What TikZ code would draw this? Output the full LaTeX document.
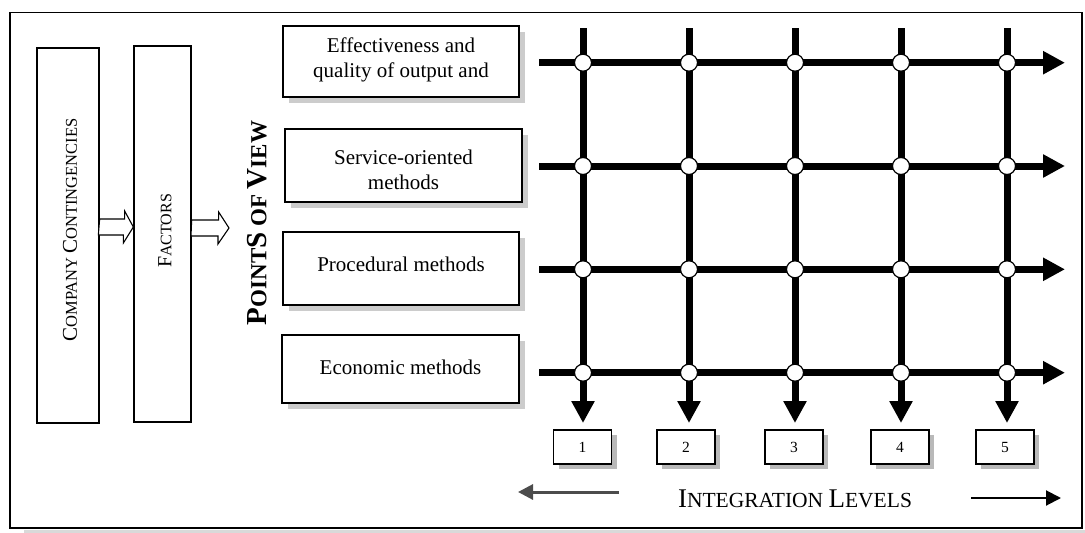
\documentclass[tikz,border=0pt]{standalone}
\usepackage{fontspec}
\setmainfont{Liberation Serif}
\usetikzlibrary{arrows.meta,shadows}
\newcommand\SZ[2]{{\fontsize{#1}{#1}\selectfont #2}}
\begin{document}
\begin{tikzpicture}[x=1pt,y=-1pt,
  tallbox/.style={draw, line width=1.3pt, fill=white, inner sep=0pt},
  hollow/.style={draw, line width=1.1pt, fill=white, line join=miter},
  rbox/.style={draw, line width=1.3pt, fill=white, inner sep=0pt,
    drop shadow={shadow xshift=6pt, shadow yshift=-6pt, fill=gray!40, opacity=1}},
  rtext/.style={align=center, inner sep=0pt, font=\fontsize{21}{24.5}\selectfont},
  nbox/.style={draw, line width=1.2pt, fill=white, inner sep=0pt,
    minimum width=58pt, minimum height=34pt, font=\fontsize{15.5}{15.5}\selectfont,
    drop shadow={shadow xshift=5pt, shadow yshift=-5pt, fill=gray!55, opacity=1}},
  gridline/.style={line width=7pt, -{Triangle[length=22pt,width=22pt]}},
  jn/.style={circle, draw, line width=1.2pt, fill=white, minimum size=17pt, inner sep=0pt},
  thinarrow/.style={-{Triangle[length=15pt,width=15pt]}}
]
\useasboundingbox (0,0) rectangle (1085,533);
% outer frame
\fill[gray!30] (24,529.5) rectangle (1085,533);
\draw[line width=1.5pt] (10,12.5) rectangle (1082,528);

% tall boxes
\node[tallbox, minimum width=62pt, minimum height=375pt] (cc) at (68,235.5) {};
\node[tallbox, minimum width=57pt, minimum height=376pt] (fa) at (162.5,234) {};
\node[rotate=90, inner sep=0pt] (cct) at (70,230)
  {\SZ{21}{C}\SZ{16.5}{OMPANY }\SZ{21}{C}\SZ{16.5}{ONTINGENCIES}};
\node[rotate=90, inner sep=0pt] (fat) at (165,231)
  {\SZ{20}{F}\SZ{16}{ACTORS}};

% hollow arrows
\coordinate (a1s) at (cc.east |- 0,227);
\coordinate (a1e) at (fa.west |- 0,227);
\draw[hollow] (a1s) ++(0,-8) -- ++(25,0) -- ++(0,-8) -- (a1e) -- ++(-10,16) -- ++(0,-8) -- ++(-25,0) -- cycle;
\coordinate (a2s) at (fa.east |- 0,228);
\coordinate (a2e) at (229,228);
\draw[hollow] (a2s) ++(0,-8) -- ++(27,0) -- ++(0,-8) -- (a2e) -- ++(-11,16) -- ++(0,-8) -- ++(-27,0) -- cycle;

% points of view
\node[rotate=90, inner sep=0pt, font=\bfseries] (pov) at (257,223)
  {\SZ{29}{P}\SZ{23}{OINT}\SZ{29}{S}\SZ{23}{ OF }\SZ{29}{V}\SZ{23}{IEW}};

% right boxes
\node[rbox, minimum width=236pt, minimum height=71pt] (p1) at (401,61.5) {};
\node[rbox, minimum width=237pt, minimum height=73pt] (p2) at (403.5,165.5) {};
\node[rbox, minimum width=236pt, minimum height=73pt] (p3) at (401,268.5) {};
\node[rbox, minimum width=237pt, minimum height=68pt] (p4) at (400.5,369) {};
\node[rtext] (p1t) at (401,60) {Effectiveness and\\quality of output and};
\node[rtext] (p2t) at (403.5,170) {Service-oriented\\methods};
\node[rtext] (p3t) at (401,264) {Procedural methods};
\node[rtext] (p4t) at (400.5,367) {Economic methods};

% grid
\foreach \i/\y in {1/62.7,2/166,3/269.3,4/372.7}{
  \coordinate (h\i s) at (539,\y);
  \coordinate (h\i e) at (1065,\y);
}
\foreach \j/\x in {1/583,2/689,3/795,4/901,5/1007}{
  \coordinate (v\j s) at (\x,28);
  \coordinate (v\j e) at (\x,423);
}
\foreach \j in {1,...,5} \draw[gridline] (v\j s) -- (v\j e);
\foreach \i in {1,...,4} \draw[gridline] (h\i s) -- (h\i e);
\foreach \i in {1,...,4}
  \foreach \j in {1,...,5}
    \node[jn] (c\i\j) at (v\j s |- h\i s) {};

% level boxes
\node[nbox] (n1) at (582.5,447) {1};
\node[nbox] (n2) at (686,447) {2};
\node[nbox] (n3) at (794,447) {3};
\node[nbox] (n4) at (900,447) {4};
\node[nbox] (n5) at (1005,447) {5};

% integration levels
\node[anchor=base, inner sep=0pt] (il) at (795,507)
  {\SZ{27}{I}\SZ{21.5}{NTEGRATION }\SZ{27}{L}\SZ{21.5}{EVELS}};
\coordinate (l1s) at (619,492);
\coordinate (l1e) at (518,492);
\draw[thinarrow, line width=3pt, black!70] (l1s) -- (l1e);
\coordinate (r1s) at (971,498);
\coordinate (r1e) at (1061,498);
\draw[thinarrow, line width=2pt] (r1s) -- (r1e);
\end{tikzpicture}
\end{document}
